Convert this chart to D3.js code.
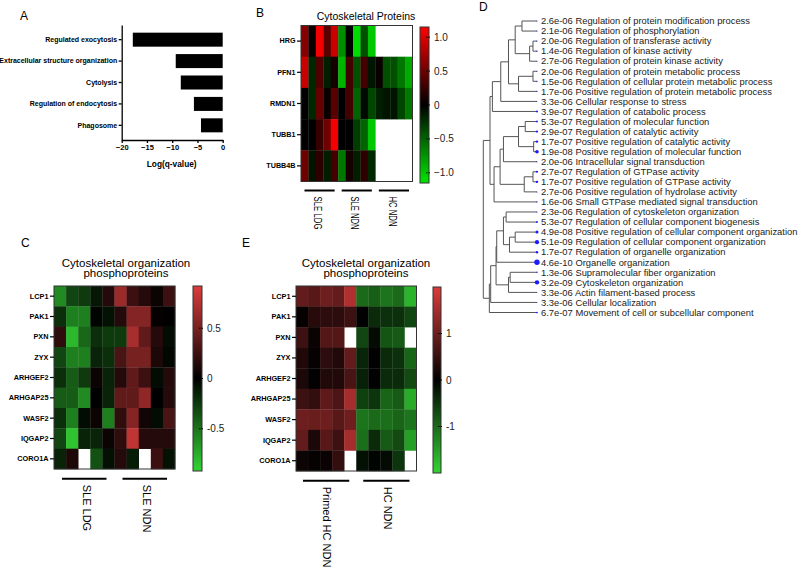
<!DOCTYPE html>
<html>
<head>
<meta charset="utf-8">
<script src="https://cdn.jsdelivr.net/npm/d3@7"></script>
<style>
body{margin:0;background:#fff;}
text{font-family:"Liberation Sans",Arial,Helvetica,sans-serif;}
</style>
</head>
<body>
<svg id="fig" width="800" height="569"></svg>
<script>
// ---------- panel A : enrichment bars
var aTerms = ["Regulated exocytosis", "Extracellular structure organization", "Cytolysis", "Regulation of endocytosis", "Phagosome"];
var aLogQ = [-17.8, -9.3, -8.3, -5.7, -4.3];
var aTicks = [-20, -15, -10, -5, 0];

// ---------- panel B : cytoskeletal proteins
var bRows = ["HRG", "PFN1", "RMDN1", "TUBB1", "TUBB4B"];
var bGroups = ["SLE LDG", "SLE NDN", "HC NDN"];
var bValues = [
  [0.6, 0.05, 1.1, 0.4, 0.9,  -0.7, 0.0, -1.1, -0.4, -1.0,  null, null, null, null, null],
  [0.9, -0.2, 0.35, -0.15, 0.1,  -0.9, 0.3, -0.4, 0.3, -0.1,  0.05, -0.4, -0.4, -0.6, -0.85],
  [0.0, -0.2, 0.45, 0.05, 0.4,  0.0, 0.3, -0.5, -0.05, -0.35,  -0.15, -0.1, -0.1, -0.35, -0.6],
  [0.0, 0.0, 0.25, 0.5, 1.1,  0.0, 0.0, -0.3, -0.5, -1.0,  null, null, null, null, null],
  [0.5, -0.1, 0.2, -0.15, 0.3,  -0.6, 0.1, -0.15, 0.2, -0.2,  null, null, null, null, null]
];
var bTicks = [1.0, 0.5, 0, -0.5, -1.0];

// ---------- panel C : phosphoproteins SLE
var phRows = ["LCP1", "PAK1", "PXN", "ZYX", "ARHGEF2", "ARHGAP25", "WASF2", "IQGAP2", "CORO1A"];
var cGroups = ["SLE LDG", "SLE NDN"];
var cValues = [
  [-0.6, -0.3, -0.25, -0.1, 0.15,  0.65, 0.25, 0.15, 0.05, 0.25],
  [-0.2, -0.55, -0.55, -0.02, -0.08,  0.15, 0.55, 0.55, 0.02, 0.01],
  [0.2, -0.8, -0.45, -0.2, -0.25,  -0.25, 0.7, 0.4, 0.15, -0.05],
  [-0.3, -0.55, -0.55, -0.15, -0.2,  0.3, 0.5, 0.5, 0.12, -0.03],
  [-0.2, -0.4, -0.25, 0.05, -0.15,  0.15, 0.4, 0.25, -0.05, 0.15],
  [-0.4, -0.4, -0.6, 0.0, -0.15,  0.4, 0.4, 0.6, 0.0, 0.15],
  [-0.2, -0.55, -0.05, 0.05, -0.55,  0.2, 0.55, 0.07, -0.05, 0.3],
  [-0.3, -0.85, -0.15, -0.15, 0.05,  0.2, 0.8, 0.15, 0.15, 0.15],
  [-0.15, 0.12, null, -0.35, -0.07,  0.15, -0.12, null, 0.25, -0.08]
];
var cTicks = [0.5, 0, -0.5];

// ---------- panel E : phosphoproteins primed HC
var eGroups = ["Primed HC NDN", "HC  NDN"];
var eValues = [
  [0.9, 0.8, 1.0, 0.9, 1.6,  -1.0, -0.9, -1.1, -1.0, -1.7],
  [0.05, 0.35, 0.4, 0.4, 0.55,  -0.02, -0.4, -0.45, -0.45, -0.65],
  [0.55, 0.1, 0.75, 0.75, null,  -0.65, -0.1, -0.8, -0.85, null],
  [0.3, 0.05, 0.4, 0.3, 0.9,  -0.35, -0.02, -0.4, -0.45, -0.95],
  [0.25, 0.03, 0.3, 0.3, 0.65,  -0.3, -0.02, -0.4, -0.4, -0.7],
  [0.55, 0.45, 0.85, 0.7, 1.5,  -0.6, -0.5, -0.95, -0.85, -1.6],
  [1.0, 0.95, 1.0, 0.8, 1.0,  -1.1, -1.0, -1.05, -0.95, -1.1],
  [0.9, 0.25, 0.8, 0.55, 1.5,  -1.05, -0.4, -0.85, -0.7, -1.5],
  [0.12, 0.05, 0.1, 0.45, null,  -0.15, -0.05, -0.1, -0.5, null]
];
var eTicks = [1, 0, -1];

// ---------- panel D : GO term tree
var dTerms = [
  "Regulation of protein modification process", "Regulation of phosphorylation",
  "Regulation of transferase activity", "Regulation of kinase activity",
  "Regulation of protein kinase activity", "Regulation of protein metabolic process",
  "Regulation of cellular protein metabolic process", "Positive regulation of protein metabolic process",
  "Cellular response to stress", "Regulation of catabolic process",
  "Regulation of molecular function", "Regulation of catalytic activity",
  "Positive regulation of catalytic activity", "Positive regulation of molecular function",
  "Intracellular signal transduction", "Regulation of GTPase activity",
  "Positive regulation of GTPase activity", "Positive regulation of hydrolase activity",
  "Small GTPase mediated signal transduction", "Regulation of cytoskeleton organization",
  "Regulation of cellular component biogenesis", "Positive regulation of cellular component organization",
  "Regulation of cellular component organization", "Regulation of organelle organization",
  "Organelle organization", "Supramolecular fiber organization",
  "Cytoskeleton organization", "Actin filament-based process",
  "Cellular localization", "Movement of cell or subcellular component"
];
var dPvals = ["2.6e-06", "2.1e-06", "2.0e-06", "1.4e-06", "2.7e-06", "2.0e-06", "1.5e-06", "1.7e-06",
  "3.3e-06", "3.9e-07", "5.3e-07", "2.9e-07", "1.7e-07", "1.9e-08", "2.0e-06", "2.7e-07",
  "1.7e-07", "2.7e-06", "1.6e-06", "2.3e-06", "5.3e-07", "4.9e-08", "5.1e-09", "1.7e-07",
  "4.6e-10", "1.3e-06", "3.2e-09", "3.3e-06", "3.3e-06", "6.7e-07"];
// hclust-style merges: negative = leaf (1-based), positive = earlier merge; third item = height
var dMerge = [
  [-1, -2, 0.28], [-3, -4, 0.075], [2, -5, 0.1375], [1, 3, 0.406],
  [-6, -7, 0.075], [5, -8, 0.344], [4, 6, 0.531], [7, -9, 0.675], [8, -10, 0.831],
  [-11, -12, 0.219], [-13, -14, 0.0625], [10, 11, 0.344], [12, -15, 0.625],
  [-16, -17, 0.075], [14, -18, 0.2375], [13, 15, 0.6875], [16, -19, 0.8], [9, 17, 0.875],
  [-20, -21, 0.575], [-22, -23, 0.406], [20, -24, 0.5125], [19, 21, 0.625], [22, -25, 0.75],
  [-26, -27, 0.5], [24, -28, 0.531], [23, 25, 0.7625], [26, -29, 0.8625], [27, -30, 0.8875],
  [18, 28, 1.0]
];

var svg = d3.select("#fig");
var FONT = "'Liberation Sans',Arial,sans-serif";

// panel letters
[["A", 20, 20], ["B", 256, 17], ["C", 21, 247], ["D", 479, 11], ["E", 242, 247]].forEach(function(p){
  svg.append("text").attr("x", p[1]).attr("y", p[2]).attr("font-size", 12).text(p[0]);
});

// ================= Panel A =================
(function(){
  var x = d3.scaleLinear().domain([-20, 0]).range([121.7, 222.7]);
  var y = d3.scaleBand().domain(aTerms).range([25, 140]).paddingInner(0.346).paddingOuter(0.358);
  var g = svg.append("g");
  g.selectAll("rect").data(aTerms).enter().append("rect")
    .attr("x", function(d, i){ return x(aLogQ[i]); })
    .attr("y", function(d){ return y(d); })
    .attr("width", function(d, i){ return x(0) - x(aLogQ[i]); })
    .attr("height", y.bandwidth())
    .attr("fill", "#000");
  var ax = g.append("g").attr("transform", "translate(0,140)")
    .call(d3.axisBottom(x).tickValues(aTicks).tickSize(3).tickSizeOuter(0).tickPadding(2));
  var ay = g.append("g").attr("transform", "translate(121.7,0)")
    .call(d3.axisLeft(y).tickSize(3).tickSizeOuter(0).tickPadding(1.5));
  [ax, ay].forEach(function(a){
    a.selectAll("path,line").attr("stroke", "#000").attr("stroke-width", 1.3);
    a.selectAll("text").attr("font-family", FONT).attr("font-weight", "bold").attr("fill", "#000");
  });
  ax.selectAll("text").attr("font-size", 7.5);
  ay.selectAll("text").attr("font-size", 7);
  g.append("text").attr("x", 171.7).attr("y", 166.5).attr("text-anchor", "middle")
    .attr("font-size", 8.3).attr("font-weight", "bold").text("Log(q-value)");
})();

// ================= heatmap helper =================
function heatmap(o){
  var g = svg.append("g");
  var nCols = o.values[0].length;
  var x = d3.scaleBand().domain(d3.range(nCols)).range([o.x0, o.x1]);
  var y = d3.scaleBand().domain(o.rows).range([o.y0, o.y1]);
  var color = d3.scaleLinear().domain([-o.max, 0, o.max]).range([o.low, "#000", o.high]).clamp(true);

  var cells = [];
  o.values.forEach(function(r, ri){ r.forEach(function(v, ci){ cells.push({r: o.rows[ri], c: ci, v: v}); }); });
  g.selectAll("rect.cell").data(cells.filter(function(d){ return d.v !== null; })).enter().append("rect")
    .attr("class", "cell")
    .attr("x", function(d){ return x(d.c); })
    .attr("y", function(d){ return y(d.r); })
    .attr("width", x.bandwidth() + 0.3)
    .attr("height", y.bandwidth() + 0.3)
    .attr("fill", function(d){ return color(d.v); });
  g.append("rect").attr("x", o.x0).attr("y", o.y0).attr("width", o.x1 - o.x0).attr("height", o.y1 - o.y0)
    .attr("fill", "none").attr("stroke", "#333").attr("stroke-width", 1);

  // row labels
  var ay = g.append("g").attr("transform", "translate(" + o.x0 + ",0)")
    .call(d3.axisLeft(y).tickSize(4).tickSizeOuter(0).tickPadding(1.5));
  ay.select(".domain").remove();
  ay.selectAll("line").attr("stroke", "#000").attr("stroke-width", 1.2);
  ay.selectAll("text").attr("font-family", FONT).attr("font-weight", "bold")
    .attr("font-size", o.rowFont).attr("fill", "#000");

  // title
  o.title.forEach(function(t, i){
    g.append("text").attr("x", o.titleX).attr("y", o.titleY + i * o.titleStep)
      .attr("text-anchor", "middle").attr("font-size", o.titleFont).text(t);
  });

  // column groups
  var per = nCols / o.groups.length;
  o.groups.forEach(function(name, gi){
    var left = x(gi * per), right = x(gi * per + per - 1) + x.bandwidth();
    g.append("line").attr("x1", left + o.inset).attr("x2", right - o.inset)
      .attr("y1", o.lineY).attr("y2", o.lineY).attr("stroke", "#000").attr("stroke-width", 2);
    var cx = (left + right) / 2 + o.labelShift;
    var t = g.append("text").attr("transform", "translate(" + cx + "," + (o.lineY + 6) + ") rotate(90)")
      .attr("font-size", o.groupFont).attr("dy", "0.35em").text(name);
    if (o.groupLen) t.attr("textLength", o.groupLen[gi]).attr("lengthAdjust", "spacingAndGlyphs");
  });

  // colour bar
  var cb = o.bar;
  var yb = d3.scaleLinear().domain([-o.max, o.max]).range([cb.y1, cb.y0]);
  var gid = "grad" + o.id;
  var grad = svg.append("defs").append("linearGradient").attr("id", gid)
    .attr("x1", 0).attr("y1", 1).attr("x2", 0).attr("y2", 0);
  d3.range(0, 1.0001, 0.05).forEach(function(t){
    grad.append("stop").attr("offset", t).attr("stop-color", color(-o.max + 2 * o.max * t));
  });
  g.append("rect").attr("x", cb.x).attr("y", cb.y0).attr("width", cb.w).attr("height", cb.y1 - cb.y0)
    .attr("fill", "url(#" + gid + ")").attr("stroke", "#333").attr("stroke-width", 1);
  o.ticks.forEach(function(v){
    g.append("line").attr("x1", cb.x + cb.w - 3).attr("x2", cb.x + cb.w + 1)
      .attr("y1", yb(v)).attr("y2", yb(v)).attr("stroke", "#000").attr("stroke-width", 1)
      .attr("stroke-dasharray", "1.5,1");
    g.append("text").attr("x", cb.x + cb.w + 5).attr("y", yb(v)).attr("dy", "0.35em")
      .attr("font-size", 10).attr("fill", "#222")
      .text(v === 0 ? "0" : (o.tickFmt ? d3.format(o.tickFmt)(v) : v));
  });
}

// ================= Panel B =================
heatmap({
  id: "B", rows: bRows, values: bValues, groups: bGroups,
  x0: 301, x1: 412.5, y0: 25.5, y1: 181.5, max: 1.15, low: "#00e600", high: "#ff0000",
  rowFont: 7.2, title: ["Cytoskeletal Proteins"], titleX: 366, titleY: 20, titleStep: 0, titleFont: 10.5,
  lineY: 190.5, inset: 3.5, labelShift: -1.5, groupFont: 11, groupLen: [33, 33, 30],
  bar: {x: 420, w: 9, y0: 27, y1: 183}, ticks: bTicks, tickFmt: ".1f"
});

// ================= Panel C =================
heatmap({
  id: "C", rows: phRows, values: cValues, groups: cGroups,
  x0: 54, x1: 175, y0: 286, y1: 469, max: 0.92, low: "#33d433", high: "#dc3c3c",
  rowFont: 7.3, title: ["Cytoskeletal organization", "phosphoproteins"], titleX: 126, titleY: 266.5, titleStep: 10.8, titleFont: 11.5,
  lineY: 478.7, inset: 8, labelShift: 2.5, groupFont: 11,
  bar: {x: 193, w: 9, y0: 286, y1: 471}, ticks: cTicks, tickFmt: null
});

// ================= Panel E =================
heatmap({
  id: "E", rows: phRows, values: eValues, groups: eGroups,
  x0: 296, x1: 416.5, y0: 286, y1: 471, max: 2.0, low: "#33d433", high: "#dc3c3c",
  rowFont: 7.3, title: ["Cytoskeletal organization", "phosphoproteins"], titleX: 366, titleY: 266.5, titleStep: 10.8, titleFont: 11.5,
  lineY: 480.7, inset: 7, labelShift: 1, groupFont: 11,
  bar: {x: 433, w: 8, y0: 287, y1: 473}, ticks: eTicks, tickFmt: null
});

// ================= Panel D : tree =================
(function(){
  var g = svg.append("g");
  var n = dTerms.length;
  var y = d3.scaleLinear().domain([0, n - 1]).range([21, 312.5]);
  var x = d3.scaleLinear().domain([0, 1]).range([537, 483.3]);
  var lp = dPvals.map(function(p){ return -Math.log10(+p); });
  var r = d3.scaleLinear().domain([d3.min(lp), d3.max(lp)]).range([0.45, 2.7]);

  var nodes = [];  // merge node positions
  function pos(id){
    if (id < 0) return {x: x(0), y: y(-id - 1)};
    return nodes[id - 1];
  }
  dMerge.forEach(function(m){
    var a = pos(m[0]), b = pos(m[1]), hx = x(m[2]);
    g.append("path")
      .attr("d", "M" + a.x + "," + a.y + "H" + hx + "V" + b.y + "H" + b.x)
      .attr("fill", "none").attr("stroke", "#555").attr("stroke-width", 1);
    nodes.push({x: hx, y: (a.y + b.y) / 2});
  });
  // root stub
  var root = nodes[nodes.length - 1];

  g.selectAll("circle").data(dTerms).enter().append("circle")
    .attr("cx", x(0)).attr("cy", function(d, i){ return y(i); })
    .attr("r", function(d, i){ return r(lp[i]); })
    .attr("fill", "#1a1aff");
  g.selectAll("text.term").data(dTerms).enter().append("text")
    .attr("class", "term")
    .attr("x", 541).attr("y", function(d, i){ return y(i); }).attr("dy", "0.35em")
    .attr("font-size", 9.4).attr("fill", "#222")
    .text(function(d, i){ return dPvals[i] + " " + d; });
})();
</script>
</body>
</html>
